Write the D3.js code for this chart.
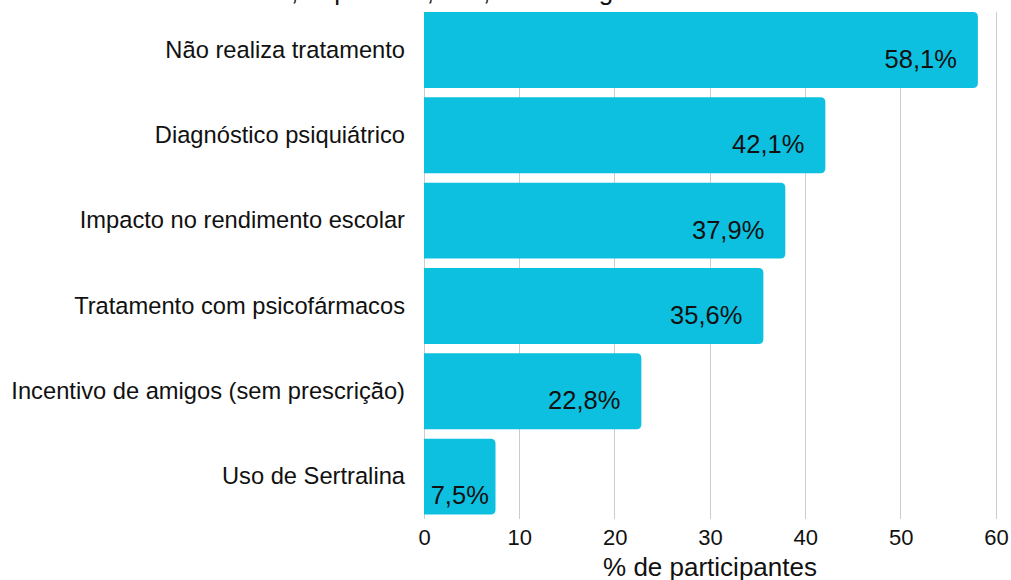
<!DOCTYPE html>
<html>
<head>
<meta charset="utf-8">
<script src="https://cdn.jsdelivr.net/npm/d3@7"></script>
<style>
  html, body { margin: 0; padding: 0; background: #fff; }
  svg { display: block; font-family: "Liberation Sans", Arial, sans-serif; }
</style>
</head>
<body>
<svg id="chart" width="1011" height="580"></svg>
<script>
const titleText = "Ansiedade, depressão, uso, e estratégias";
const categories = [
  "Não realiza tratamento",
  "Diagnóstico psiquiátrico",
  "Impacto no rendimento escolar",
  "Tratamento com psicofármacos",
  "Incentivo de amigos (sem prescrição)",
  "Uso de Sertralina"
];
const values = [58.1, 42.1, 37.9, 35.6, 22.8, 7.5];
const tickValues = [0, 10, 20, 30, 40, 50, 60];
const xAxisTitle = "% de participantes";

const W = 1011, H = 580;
const plot = { left: 424, right: 996, top: 7.3, bottom: 519.3 };
const barColor = "#0ec0e0";
const gridColor = "#cccccc";

const svg = d3.select("#chart");

const x = d3.scaleLinear().domain([0, 60]).range([plot.left, plot.right]);
const y = d3.scaleBand().domain(categories).range([plot.top, plot.bottom])
  .paddingInner(0.11).paddingOuter(0.055);

// title (mostly clipped by the top edge)
svg.append("text")
  .attr("x", 168).attr("y", 0.3)
  .attr("font-size", 26).attr("fill", "#111")
  .text(titleText);

// gridlines
const gridTop = y(categories[0]);
svg.append("g").selectAll("line").data(tickValues).join("line")
  .attr("x1", d => x(d)).attr("x2", d => x(d))
  .attr("y1", gridTop).attr("y2", plot.bottom)
  .attr("stroke", gridColor).attr("stroke-width", 1)
  .attr("shape-rendering", "crispEdges");

// bars with rounded right end
const r = 5;
function barPath(d, i) {
  const x0 = x(0), x1 = x(d), y0 = y(categories[i]), h = y.bandwidth();
  const rr = Math.min(r, (x1 - x0) / 2);
  return `M${x0},${y0}H${x1 - rr}Q${x1},${y0} ${x1},${y0 + rr}V${y0 + h - rr}Q${x1},${y0 + h} ${x1 - rr},${y0 + h}H${x0}Z`;
}
svg.append("g").selectAll("path").data(values).join("path")
  .attr("d", barPath)
  .attr("fill", barColor);

// value labels
const fmt = v => v.toFixed(1).replace(".", ",") + "%";
const gap = 21;
svg.append("g").selectAll("text").data(values).join("text")
  .attr("font-size", 25.5).attr("fill", "#111")
  .text(d => fmt(d))
  .each(function(d, i) {
    const t = d3.select(this);
    const w = this.getComputedTextLength();
    const cy = y(categories[i]) + y.bandwidth() / 2;
    const bw = x(d) - x(0);
    if (w + 2 * gap <= bw) {
      t.attr("text-anchor", "end").attr("x", x(d) - gap).attr("y", cy + 9).attr("dy", "0.35em");
    } else {
      t.attr("text-anchor", "middle").attr("x", (x(0) + x(d)) / 2).attr("y", cy + 18).attr("dy", "0.35em");
    }
  });

// y axis (category labels)
const yAxis = svg.append("g")
  .attr("transform", `translate(${plot.left},0)`)
  .call(d3.axisLeft(y).tickSize(0).tickPadding(19));
yAxis.select(".domain").remove();
yAxis.selectAll("text")
  .attr("font-size", 23.7).attr("fill", "#111")
  .style("font-family", '"Liberation Sans", Arial, sans-serif');

// x axis
const xAxis = svg.append("g")
  .attr("transform", `translate(0,${plot.bottom})`)
  .call(d3.axisBottom(x).tickValues(tickValues).tickSize(0).tickPadding(10).tickFormat(d3.format("d")));
xAxis.select(".domain").remove();
xAxis.selectAll("text")
  .attr("font-size", 22).attr("fill", "#111")
  .style("font-family", '"Liberation Sans", Arial, sans-serif');

// x axis title
svg.append("text")
  .attr("x", (plot.left + plot.right) / 2).attr("y", 576)
  .attr("text-anchor", "middle")
  .attr("font-size", 26).attr("fill", "#111")
  .text(xAxisTitle);
</script>
</body>
</html>
